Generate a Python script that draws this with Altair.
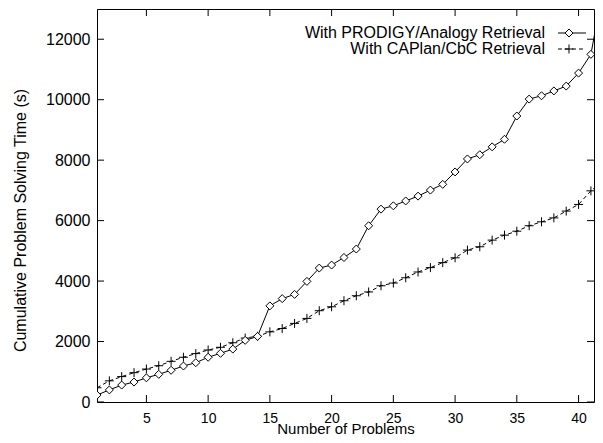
import altair as alt
import pandas as pd

problems = list(range(1, 43))
prodigy = [230, 400, 560, 660, 800, 915, 1050, 1190, 1300, 1480, 1610, 1750, 2040, 2170,
           3180, 3420, 3560, 3990, 4430, 4530, 4780, 5060,
           5830, 6380, 6490, 6650, 6810, 7010, 7200,
           7610, 8040, 8180, 8440, 8690, 9460, 10020, 10130, 10290, 10450, 10880, 11500,
           13750]
caplan = [470, 700, 840, 970, 1090, 1200, 1345, 1480, 1600, 1720, 1810, 1960, 2115, 2175,
          2320, 2430, 2600, 2765, 3020, 3150, 3350, 3515, 3640, 3845, 3935, 4110, 4300,
          4445, 4610, 4770, 5025, 5135, 5355, 5520, 5650, 5830, 5960, 6090, 6315, 6535, 6985,
          7330]
series_names = ["With PRODIGY/Analogy Retrieval", "With CAPlan/CbC Retrieval"]
x_ticks = [5, 10, 15, 20, 25, 30, 35, 40]
y_ticks = [0, 2000, 4000, 6000, 8000, 10000, 12000]

W, H = 497, 393
FONT = "Liberation Sans"

df_p = pd.DataFrame({"n": problems, "t": prodigy})
df_c = pd.DataFrame({"n": problems, "t": caplan})
df_xt = pd.DataFrame({"v": x_ticks})
df_yt = pd.DataFrame({"v": y_ticks})

xscale = alt.Scale(domain=[1, 41.25], nice=False, zero=False)
yscale = alt.Scale(domain=[0, 13000], nice=False)

xenc = alt.X("n:Q", scale=xscale,
             axis=alt.Axis(values=x_ticks, ticks=False, domain=False, grid=False,
                           title="Number of Problems", labelPadding=9,
                           labelFontSize=14, titleFontSize=15,
                           titleY=31, titleBaseline="alphabetic"))
yenc = alt.Y("t:Q", scale=yscale,
             axis=alt.Axis(values=y_ticks, format="d", ticks=False, domain=False, grid=False,
                           title="Cumulative Problem Solving Time (s)", labelPadding=7,
                           labelFontSize=16, titleFontSize=16,
                           titleX=-77, titleY=211, titleAngle=-90,
                           titleAlign="center", titleBaseline="middle"))

line_p = alt.Chart(df_p).mark_line(color="black", strokeWidth=1, clip=True).encode(x=xenc, y=yenc)
pts_p = alt.Chart(df_p).mark_point(shape="diamond", filled=True, fill="white", stroke="black",
                                   strokeWidth=1, size=64, opacity=1, clip=True).encode(
    x=alt.X("n:Q", scale=xscale), y=alt.Y("t:Q", scale=yscale))
line_c = alt.Chart(df_c).mark_line(color="black", strokeWidth=1, strokeDash=[4, 3], clip=True).encode(
    x=alt.X("n:Q", scale=xscale), y=alt.Y("t:Q", scale=yscale))
pts_c = alt.Chart(df_c).mark_point(shape="M-1,0H1M0,-1V1", filled=False, stroke="black",
                                   strokeWidth=1, size=81, opacity=1, clip=True).encode(
    x=alt.X("n:Q", scale=xscale), y=alt.Y("t:Q", scale=yscale))

tk = dict(color="black", strokeWidth=1)
xt_bottom = alt.Chart(df_xt).mark_rule(**tk).encode(
    x=alt.X("v:Q", scale=xscale), y=alt.value(H), y2=alt.value(H - 7))
xt_top = alt.Chart(df_xt).mark_rule(**tk).encode(
    x=alt.X("v:Q", scale=xscale), y=alt.value(0), y2=alt.value(7))
yt_left = alt.Chart(df_yt).mark_rule(**tk).encode(
    y=alt.Y("v:Q", scale=yscale), x=alt.value(0), x2=alt.value(7))
yt_right = alt.Chart(df_yt).mark_rule(**tk).encode(
    y=alt.Y("v:Q", scale=yscale), x=alt.value(W), x2=alt.value(W - 7))

# legend
leg1 = pd.DataFrame({"label": [series_names[0]]})
leg2 = pd.DataFrame({"label": [series_names[1]]})
ly1, ly2 = 24, 40
lt1 = alt.Chart(leg1).mark_text(align="right", baseline="middle", font=FONT, fontSize=16, color="black").encode(
    text="label:N", x=alt.value(448), y=alt.value(ly1))
lt2 = alt.Chart(leg2).mark_text(align="right", baseline="middle", font=FONT, fontSize=16, color="black").encode(
    text="label:N", x=alt.value(448), y=alt.value(ly2))
ll1 = alt.Chart(leg1).mark_rule(color="black", strokeWidth=1).encode(
    x=alt.value(461), x2=alt.value(489), y=alt.value(ly1))
ll2 = alt.Chart(leg2).mark_rule(color="black", strokeWidth=1, strokeDash=[4, 3]).encode(
    x=alt.value(461), x2=alt.value(489), y=alt.value(ly2))
lp1 = alt.Chart(leg1).mark_point(shape="diamond", filled=True, fill="white", stroke="black",
                                 strokeWidth=1, size=64, opacity=1).encode(
    x=alt.value(472), y=alt.value(ly1))
lp2 = alt.Chart(leg2).mark_point(shape="M-1,0H1M0,-1V1", filled=False, stroke="black",
                                 strokeWidth=1, size=81, opacity=1).encode(
    x=alt.value(472), y=alt.value(ly2))

chart = alt.layer(
    line_c, pts_c, line_p, pts_p,
    xt_bottom, xt_top, yt_left, yt_right,
    ll1, ll2, lp1, lp2, lt1, lt2,
).properties(
    width=W, height=H,
    autosize=alt.AutoSizeParams(type="none"),
    padding={"left": 89, "top": 1, "right": 1, "bottom": 33},
).configure_view(
    stroke="black", strokeWidth=1
).configure_axis(
    labelFont=FONT, titleFont=FONT,
    labelColor="black", titleColor="black", titleFontWeight="normal"
)

chart.save("out.html", embed_options={"renderer": "svg", "actions": False})
